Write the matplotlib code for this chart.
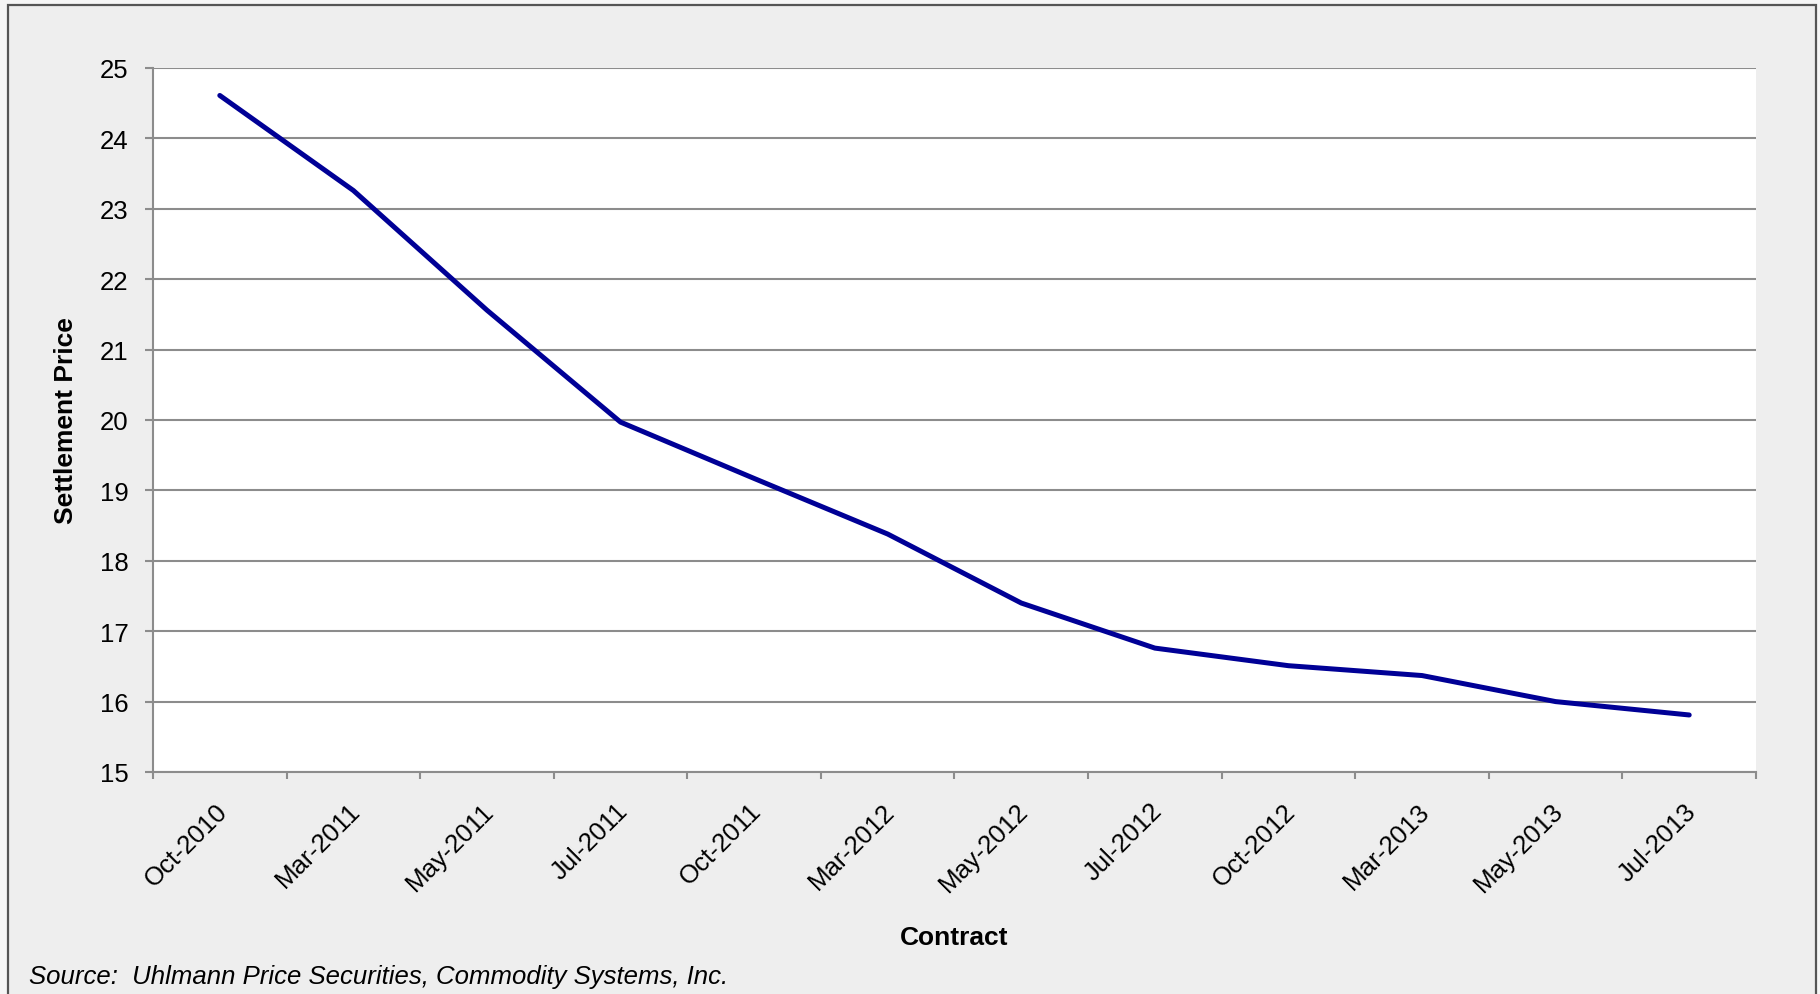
import numpy as np
import matplotlib
matplotlib.use("Agg")
import matplotlib.pyplot as plt
from matplotlib.patches import Rectangle
from matplotlib.ticker import FixedLocator
from matplotlib.transforms import ScaledTranslation

# data
contracts = ["Oct-2010", "Mar-2011", "May-2011", "Jul-2011", "Oct-2011", "Mar-2012",
             "May-2012", "Jul-2012", "Oct-2012", "Mar-2013", "May-2013", "Jul-2013"]
prices = [24.61, 23.26, 21.56, 19.97, 19.17, 18.38,
          17.40, 16.76, 16.51, 16.37, 16.00, 15.81]
y_ticks = list(range(15, 26))

plt.rcParams['font.family'] = ['Liberation Sans', 'DejaVu Sans']

W, H = 1820, 995
fig = plt.figure(figsize=(W / 100, H / 100), dpi=100, facecolor='#f6f6f6')

# grey panel with dark frame (bottom edge runs off the picture)
panel = Rectangle((8 / W, -0.01), (1816 - 8) / W, 1 - 6 / H + 0.01,
                  transform=fig.transFigure, facecolor='#eeeeee',
                  edgecolor='#555555', linewidth=1.6, zorder=-5)
fig.patches.append(panel)

left, right, top, bottom = 153, 1756, 69, 773
ax = fig.add_axes([left / W, 1 - bottom / H, (right - left) / W, (bottom - top) / H])
ax.set_facecolor('white')

x = np.arange(len(contracts))
ax.plot(x, prices, color='#000096', linewidth=3.6, solid_capstyle='round',
        solid_joinstyle='round', zorder=3)

ax.set_xlim(-0.5, len(contracts) - 0.5)
ax.set_ylim(15, 25)
ax.set_yticks(y_ticks)
ax.yaxis.grid(True, color='#8c8c8c', linewidth=1.5)
ax.set_axisbelow(True)

for side in ['top', 'right']:
    ax.spines[side].set_visible(False)
for side in ['left', 'bottom']:
    ax.spines[side].set_color('#8c8c8c')
    ax.spines[side].set_linewidth(1.5)

ax.tick_params(axis='y', direction='out', length=5.8, width=1.5, color='#8c8c8c',
               pad=12, labelsize=18.5, labelcolor='black')

# category labels at centres, tick marks between categories
ax.set_xticks(x)
ax.set_xticklabels(contracts, rotation=45, ha='right', va='top', rotation_mode='anchor')
ax.tick_params(axis='x', which='major', length=0, pad=19, labelsize=18.5)
ax.xaxis.set_minor_locator(FixedLocator(np.arange(-0.5, len(contracts), 1.0)))
ax.tick_params(axis='x', which='minor', direction='out', length=5, width=1.5,
               color='#8c8c8c')
shift = ScaledTranslation(-5 / 100, 0, fig.dpi_scale_trans)
for lab in ax.get_xticklabels():
    lab.set_transform(lab.get_transform() + shift)

fig.text(66 / W, 1 - 421 / H, 'Settlement Price', rotation=90, ha='center',
         va='center', fontsize=19, fontweight='bold')
fig.text(954 / W, 1 - 938 / H, 'Contract', ha='center', va='center',
         fontsize=19, fontweight='bold')
fig.text(29 / W, 1 - 977 / H, 'Source:  Uhlmann Price Securities, Commodity Systems, Inc.',
         ha='left', va='center', fontsize=18.5, style='italic')

fig.savefig('out.png', dpi=100, facecolor=fig.get_facecolor())
